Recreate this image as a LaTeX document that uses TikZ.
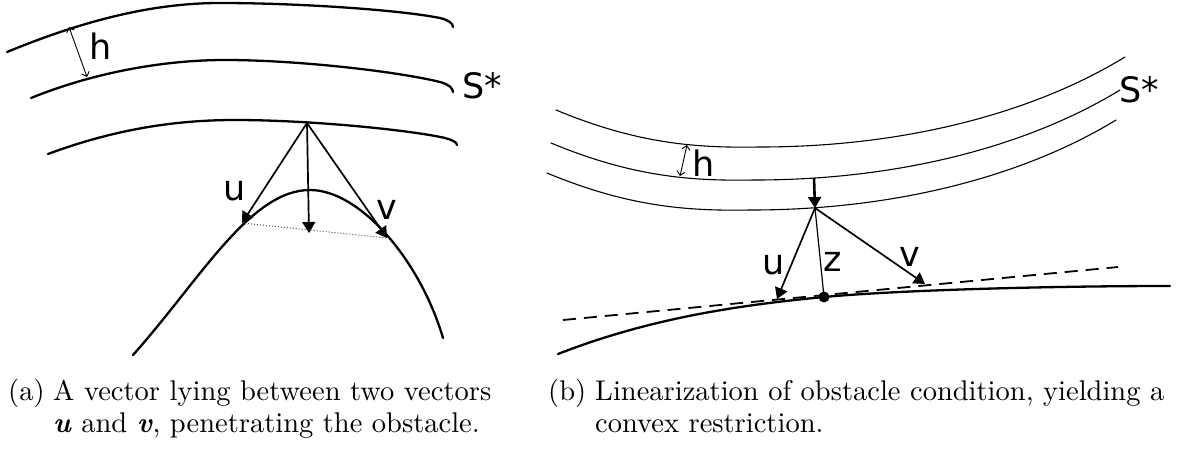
\documentclass[tikz,border=0pt]{standalone}
\usepackage{fontspec}
\newfontfamily\lab{DejaVu Sans}
\newfontfamily\capfont{lmroman10-regular.otf}[BoldFont=lmroman10-bold.otf, ItalicFont=lmroman10-italic.otf, BoldItalicFont=lmroman10-bolditalic.otf]
\usetikzlibrary{arrows.meta}
\tikzset{
  thickcurve/.style={line width=2.3pt, line cap=round},
  thincurve/.style={line width=1.1pt, line cap=round},
  vec/.style={line width=1.7pt, -{Triangle[length=11pt,width=13pt]}},
  zline/.style={line width=1.2pt},
  harrow/.style={line width=0.9pt, {Straight Barb[length=4pt,width=8pt]}-{Straight Barb[length=4pt,width=8pt]}},
  lbl/.style={font=\lab\fontsize{35}{40}\selectfont, inner sep=0pt},
  captext/.style={inner sep=0pt, anchor=base west, font=\capfont\fontsize{28.5}{32}\selectfont},
  tangent/.style={line width=1.8pt, dash pattern=on 13pt off 8pt},
}
\begin{document}
\begin{tikzpicture}[x=1pt,y=-1pt]
\useasboundingbox (0,0) rectangle (1181,455);

% ---------------- panel (a) ----------------
\draw[thickcurve] (7,52) .. controls (80,22) and (150,3) .. (220,3)
   .. controls (300,3) and (400,10) .. (440,18) .. controls (448,20) and (453,23) .. (453,27);
\draw[thickcurve] (31,98) .. controls (90,74) and (160,60) .. (225,60)
   .. controls (300,60) and (400,72) .. (440,82) .. controls (448,84) and (453,88) .. (453,92);
\draw[thickcurve] (48,154) .. controls (110,131) and (170,120) .. (235,120)
   .. controls (310,120) and (410,130) .. (445,138) .. controls (452,140) and (457,142) .. (457,145);
\draw[thickcurve] (133,355) .. controls (200,280) and (250,190) .. (310,190)
   .. controls (360,190) and (420,260) .. (443,338);

\coordinate (ha1) at (69,27);
\coordinate (ha2) at (87,77);
\draw[harrow] (ha1) -- (ha2);
\node[lbl] (ha) at (101,46) {h};
\node[lbl, anchor=west] (Sa) at (462,86) {S*};

\coordinate (Aa) at (307,123);
\coordinate (Ua) at (242,223);
\coordinate (Ma) at (309,233);
\coordinate (Va) at (387,238);
\draw[vec] (Aa) -- (Ua);
\draw[vec] (Aa) -- (Ma);
\draw[vec] (Aa) -- (Va);
\draw[dotted, line width=1pt, black!70] (Ua) -- (Va);
\node[lbl] (ua) at (235,191) {u};
\node[lbl] (va) at (387,210) {v};

% ---------------- panel (b) ----------------
\draw[thincurve] (556,110) .. controls (640,145) and (700,148) .. (760,147)
   .. controls (900,147) and (1030,115) .. (1125,57);
\draw[thincurve] (551,143) .. controls (635,178) and (695,181) .. (755,180)
   .. controls (895,180) and (1025,148) .. (1120,90);
\draw[thincurve] (547,173) .. controls (631,208) and (691,211) .. (751,210)
   .. controls (891,210) and (1021,178) .. (1116,120);

\coordinate (hb1) at (687,145);
\coordinate (hb2) at (680,176);
\draw[harrow] (hb1) -- (hb2);
\node[lbl] (hb) at (704,163) {h};
\node[lbl, anchor=west] (Sb) at (1119,90) {S*};

\draw[tangent] (563,320) -- (1118,267);
\draw[thickcurve] (558,354) .. controls (650,318) and (740,305) .. (824,297)
   .. controls (900,290) and (1050,286) .. (1170,286);

\coordinate (Bb) at (814,178);
\coordinate (Ab) at (815,208);
\coordinate (Ub) at (777,299);
\coordinate (Vb) at (925,284);
\node[circle, fill, inner sep=0pt, minimum size=11pt] (Zb) at (824,297) {};
\draw[vec, line width=2.6pt] (Bb) -- (Ab);
\draw[vec] (Ab) -- (Ub);
\draw[vec] (Ab) -- (Vb);
\draw[zline] (Ab) -- (Zb.center);
\node[lbl] (ub) at (774,265) {u};
\node[lbl] (zb) at (833,262) {z};
\node[lbl] (vb) at (910,257) {v};

% ---------------- captions ----------------
\node[captext] (capa) at (8,400) {(a)};
\node[captext] (capa1) at (53,400) {A vector lying between two vectors};
\node[captext] (capa2) at (53,432) {\textbf{\textit{u}} and \textbf{\textit{v}}, penetrating the obstacle.};
\node[captext] (capb) at (548,400) {(b)};
\node[captext] (capb1) at (595,400) {Linearization of obstacle condition, yielding a};
\node[captext] (capb2) at (595,432) {convex restriction.};
\end{tikzpicture}
\end{document}
